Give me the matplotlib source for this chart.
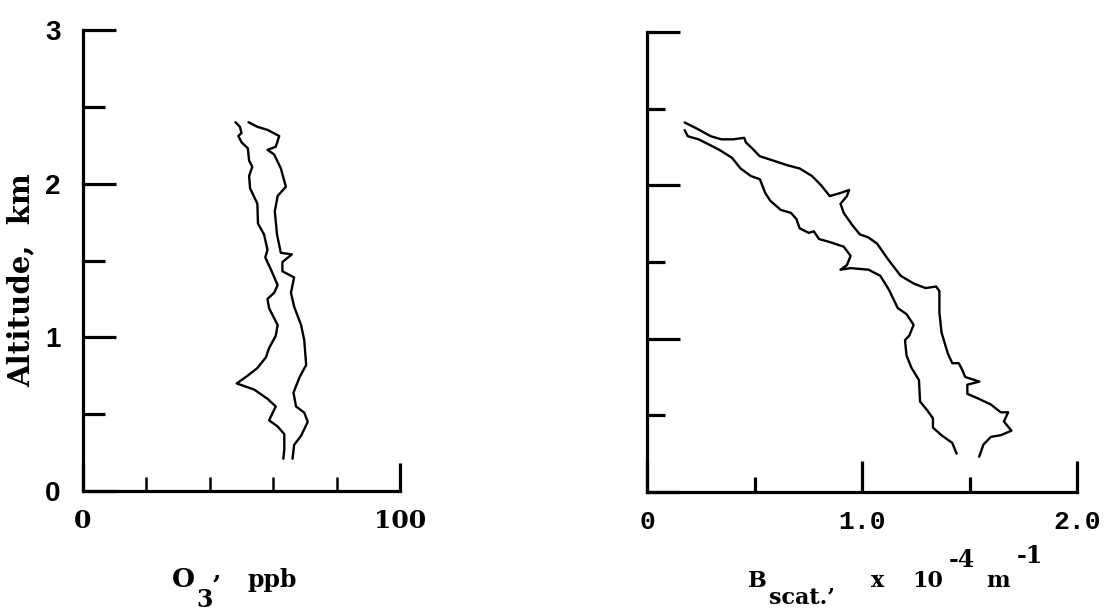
import matplotlib
matplotlib.use("Agg")
import matplotlib.pyplot as plt

# ---------------- data ----------------
# Left panel: O3 (ppb) vs altitude (km), two envelope curves
o3_a_x = [48.1, 49.5, 50.0, 49.0, 50.0, 52.0, 52.4, 53.4, 52.4, 52.7, 55.0, 55.2, 57.1, 58.2,
          57.5, 59.3, 61.4, 60.3, 58.2, 58.7, 61.4, 60.8, 58.7, 57.7, 55.0, 51.9, 48.5, 54.0,
          58.2, 60.8, 58.7, 61.4, 63.5, 63.5, 63.2]
o3_a_y = [2.40, 2.37, 2.33, 2.31, 2.27, 2.23, 2.15, 2.11, 2.05, 1.97, 1.87, 1.74, 1.67, 1.57,
          1.52, 1.44, 1.34, 1.29, 1.25, 1.19, 1.08, 1.01, 0.93, 0.87, 0.80, 0.75, 0.70, 0.66,
          0.60, 0.55, 0.46, 0.42, 0.37, 0.27, 0.21]
o3_b_x = [52.2, 55.0, 58.2, 61.9, 60.8, 58.2, 60.3, 62.4, 64.0, 61.4, 60.5, 61.2, 62.4, 65.9,
          62.9, 62.9, 66.6, 65.6, 66.6, 68.8, 69.8, 70.4, 68.3, 66.4, 67.2, 69.8, 70.9, 68.8,
          66.6, 66.1]
o3_b_y = [2.40, 2.37, 2.35, 2.31, 2.24, 2.22, 2.19, 2.10, 1.98, 1.92, 1.82, 1.67, 1.55, 1.54,
          1.49, 1.43, 1.39, 1.29, 1.20, 1.08, 0.98, 0.82, 0.74, 0.64, 0.55, 0.51, 0.45, 0.36,
          0.30, 0.21]

# Right panel: B_scat (1e-4 m^-1) vs altitude (km), two envelope curves
bs_a_x = [0.175, 0.232, 0.297, 0.346, 0.40, 0.452, 0.46, 0.49, 0.524, 0.59, 0.655, 0.71,
          0.768, 0.81, 0.85, 0.90, 0.94, 0.93, 0.90, 0.915, 0.955, 0.99, 1.03, 1.07, 1.125,
          1.18, 1.24, 1.295, 1.345, 1.36, 1.36, 1.37, 1.40, 1.42, 1.45, 1.465, 1.48, 1.546,
          1.49, 1.49, 1.54, 1.60, 1.645, 1.68, 1.66, 1.695, 1.645, 1.60, 1.565, 1.545]
bs_a_y = [2.41, 2.37, 2.32, 2.30, 2.30, 2.31, 2.28, 2.24, 2.19, 2.16, 2.13, 2.11, 2.06, 2.00,
          1.93, 1.95, 1.97, 1.93, 1.88, 1.82, 1.74, 1.68, 1.66, 1.62, 1.51, 1.41, 1.36, 1.33,
          1.34, 1.31, 1.17, 1.04, 0.90, 0.84, 0.84, 0.80, 0.75, 0.72, 0.70, 0.64, 0.61, 0.57,
          0.52, 0.52, 0.46, 0.40, 0.37, 0.36, 0.31, 0.23]
bs_b_x = [0.175, 0.19, 0.24, 0.297, 0.338, 0.395, 0.435, 0.484, 0.525, 0.55, 0.573, 0.622,
          0.67, 0.695, 0.71, 0.752, 0.776, 0.80, 0.85, 0.915, 0.947, 0.93, 0.90, 0.947, 1.03,
          1.085, 1.125, 1.166, 1.207, 1.24, 1.22, 1.20, 1.207, 1.23, 1.265, 1.27, 1.305, 1.33,
          1.33, 1.37, 1.42, 1.44]
bs_b_y = [2.36, 2.32, 2.30, 2.26, 2.23, 2.18, 2.11, 2.06, 2.04, 1.95, 1.90, 1.84, 1.82, 1.78,
          1.72, 1.69, 1.70, 1.65, 1.63, 1.60, 1.54, 1.48, 1.45, 1.46, 1.45, 1.41, 1.32, 1.20,
          1.16, 1.09, 1.02, 0.99, 0.89, 0.81, 0.73, 0.59, 0.53, 0.48, 0.42, 0.37, 0.32, 0.25]

o3_xticks = [0, 100]
o3_xticklabels = ["0", "100"]
o3_minor_xticks = [20, 40, 60, 80]
bs_xticks = [0, 1.0, 2.0]
bs_xticklabels = ["0", "1.0", "2.0"]
bs_minor_xticks = [0.5, 1.5]
alt_ticks = [0, 1, 2, 3]
alt_ticklabels = ["0", "1", "2", "3"]
alt_minor_ticks = [0.5, 1.5, 2.5]

# ---------------- figure ----------------
W, H = 1107, 611
fig = plt.figure(figsize=(W / 100, H / 100), dpi=100)


def ax_at(x0, x1, y0, y1):
    return fig.add_axes([x0 / W, 1 - y0 / H, (x1 - x0) / W, (y0 - y1) / H])


LW_AX = 2.3
LW_LINE = 1.7


def style(ax):
    for s in ("top", "right"):
        ax.spines[s].set_visible(False)
    for s in ("left", "bottom"):
        ax.spines[s].set_linewidth(LW_AX)
        ax.spines[s].set_capstyle("projecting")
    ax.set_ylim(0, 3)
    ax.set_yticks(alt_ticks)
    ax.set_yticks(alt_minor_ticks, minor=True)


# Left panel
ax1 = ax_at(83, 400, 491, 30)
style(ax1)
ax1.plot(o3_a_x, o3_a_y, color="black", lw=LW_LINE, solid_joinstyle="round", solid_capstyle="round")
ax1.plot(o3_b_x, o3_b_y, color="black", lw=LW_LINE, solid_joinstyle="round", solid_capstyle="round")
ax1.set_xlim(0, 100)
ax1.set_xticks(o3_xticks)
ax1.set_xticklabels(o3_xticklabels, fontfamily="DejaVu Serif", fontweight="bold", fontsize=18)
ax1.set_xticks(o3_minor_xticks, minor=True)
ax1.set_yticklabels(alt_ticklabels, fontfamily="Liberation Sans", fontweight="bold", fontsize=20)
ax1.tick_params(axis="x", which="major", direction="in", length=20, width=LW_AX, pad=13)
ax1.tick_params(axis="x", which="minor", direction="in", length=10, width=1.8)
ax1.tick_params(axis="y", which="major", direction="in", length=24, width=LW_AX, pad=16)
ax1.tick_params(axis="y", which="minor", direction="in", length=16, width=LW_AX)

# Right panel
ax2 = ax_at(647, 1077, 492, 32)
style(ax2)
ax2.plot(bs_a_x, bs_a_y, color="black", lw=LW_LINE, solid_joinstyle="round", solid_capstyle="round")
ax2.plot(bs_b_x, bs_b_y, color="black", lw=LW_LINE, solid_joinstyle="round", solid_capstyle="round")
ax2.set_xlim(0, 2.0)
ax2.set_xticks(bs_xticks)
ax2.set_xticklabels(bs_xticklabels, fontfamily="Liberation Mono", fontweight="bold", fontsize=19)
ax2.set_xticks(bs_minor_xticks, minor=True)
ax2.set_yticklabels([])
ax2.tick_params(axis="x", which="major", direction="in", length=22, width=LW_AX, pad=13)
ax2.tick_params(axis="x", which="minor", direction="in", length=11, width=LW_AX)
ax2.tick_params(axis="y", which="major", direction="in", length=24, width=LW_AX)
ax2.tick_params(axis="y", which="minor", direction="in", length=13, width=LW_AX)

# Axis titles
fig.text(21 / W, 1 - 280 / H, "Altitude,  km", rotation=90, ha="center", va="center",
         fontfamily="DejaVu Serif", fontweight="bold", fontsize=21)

ser = dict(fontfamily="DejaVu Serif", fontweight="bold", va="baseline", ha="left")
fig.text(172 / W, 1 - 587 / H, "O", fontsize=19, **ser)
fig.text(196 / W, 1 - 607 / H, "3", fontsize=17, **ser)
fig.text(212 / W, 1 - 593 / H, "\u2019", fontsize=19, **ser)
fig.text(247 / W, 1 - 587 / H, "ppb", fontsize=17, **ser)

fig.text(748 / W, 1 - 587 / H, "B", fontsize=16, **ser)
fig.text(769 / W, 1 - 604 / H, "scat.\u2019", fontsize=16, **ser)
fig.text(871 / W, 1 - 587 / H, "x", fontsize=16, **ser)
fig.text(912 / W, 1 - 587 / H, "10", fontsize=16, **ser)
fig.text(949 / W, 1 - 567 / H, "-4", fontsize=17, **ser)
fig.text(986 / W, 1 - 587 / H, "m", fontsize=16, **ser)
fig.text(1017 / W, 1 - 563 / H, "-1", fontsize=17, **ser)

fig.savefig("out.png", dpi=100)
